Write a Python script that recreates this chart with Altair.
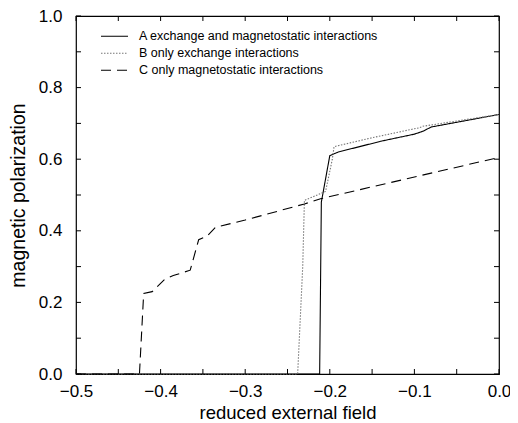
import altair as alt
import pandas as pd

# Curve A: exchange and magnetostatic interactions
a_x = [-0.5, -0.212, -0.21, -0.2, -0.19, -0.14, -0.1, -0.09, -0.08, 0.0]
a_y = [0.0, 0.0, 0.48, 0.61, 0.62, 0.65, 0.67, 0.678, 0.69, 0.725]
# Curve B: only exchange interactions
b_x = [-0.5, -0.238, -0.235, -0.232, -0.23, -0.205, -0.197, -0.195, -0.15, -0.1, -0.095, -0.09, 0.0]
b_y = [0.0, 0.0, 0.15, 0.3, 0.485, 0.51, 0.6, 0.635, 0.66, 0.685, 0.687, 0.692, 0.725]
# Curve C: only magnetostatic interactions
c_x = [-0.5, -0.425, -0.42, -0.41, -0.395, -0.385, -0.365, -0.355, -0.345, -0.335, -0.3, -0.23, -0.21, 0.0]
c_y = [0.0, 0.0, 0.225, 0.23, 0.265, 0.275, 0.29, 0.375, 0.385, 0.41, 0.43, 0.475, 0.49, 0.605]

names = ["A exchange and magnetostatic interactions",
         "B only exchange interactions",
         "C only magnetostatic interactions"]

x_ticks = [round(-0.5 + 0.05 * i, 2) for i in range(11)]
y_ticks = [round(0.1 * i, 1) for i in range(11)]

rows = []
for name, xs, ys in zip(names, [a_x, b_x, c_x], [a_y, b_y, c_y]):
    for i, (x, y) in enumerate(zip(xs, ys)):
        rows.append({"field": x, "pol": y, "series": name, "order": i})
df = pd.DataFrame(rows)

W, H = 423, 358
xscale = alt.Scale(domain=[-0.5, 0.0], nice=False)
yscale = alt.Scale(domain=[0.0, 1.0], nice=False)
font = "Liberation Sans"

legend = alt.Legend(title=None, orient="none", legendX=24, legendY=12,
                    symbolType="stroke", symbolSize=729, symbolStrokeWidth=1.1,
                    labelFontSize=12.5, labelFont=font, labelColor="black",
                    rowPadding=0, clipHeight=16.5, labelOffset=10, labelLimit=400)

lines = alt.Chart(df).mark_line(strokeWidth=1.1).encode(
    x=alt.X("field:Q", scale=xscale,
            axis=alt.Axis(values=[-0.5, -0.4, -0.3, -0.2, -0.1, 0.0], format=".1f",
                          title="reduced external field", tickSize=0, domain=False,
                          grid=False, labelPadding=9, titlePadding=4, labelFlush=False,
                          labelFontSize=17, titleFontSize=18.5)),
    y=alt.Y("pol:Q", scale=yscale,
            axis=alt.Axis(values=[0.0, 0.2, 0.4, 0.6, 0.8, 1.0], format=".1f",
                          title="magnetic polarization", tickSize=0, domain=False,
                          grid=False, labelPadding=14, titlePadding=10, labelFlush=False,
                          labelFontSize=17, titleFontSize=19.5)),
    order="order:Q",
    color=alt.Color("series:N",
                    scale=alt.Scale(domain=names, range=["#000000", "#777777", "#000000"]),
                    legend=legend),
    strokeDash=alt.StrokeDash("series:N",
                              scale=alt.Scale(domain=names, range=[[1, 0], [1.5, 1.5], [10, 6]]),
                              legend=legend),
)

xt = pd.DataFrame({"v": x_ticks})
yt = pd.DataFrame({"v": y_ticks})
tk = 5
bottom_ticks = alt.Chart(xt).mark_rule(color="black", strokeWidth=1).encode(
    x=alt.X("v:Q", scale=xscale), y=alt.value(H), y2=alt.value(H - tk))
top_ticks = alt.Chart(xt).mark_rule(color="black", strokeWidth=1).encode(
    x=alt.X("v:Q", scale=xscale), y=alt.value(0), y2=alt.value(tk))
left_ticks = alt.Chart(yt).mark_rule(color="black", strokeWidth=1).encode(
    y=alt.Y("v:Q", scale=yscale), x=alt.value(0), x2=alt.value(tk))
right_ticks = alt.Chart(yt).mark_rule(color="black", strokeWidth=1).encode(
    y=alt.Y("v:Q", scale=yscale), x=alt.value(W), x2=alt.value(W - tk))

chart = alt.layer(lines, bottom_ticks, top_ticks, left_ticks, right_ticks).properties(
    width=W, height=H,
    autosize=alt.AutoSizeParams(type="none"),
    padding={"left": 68, "top": 8, "right": 11, "bottom": 50},
).configure_view(stroke="black", strokeWidth=1.2).configure_axis(
    labelFont=font, titleFont=font,
    labelColor="black", titleColor="black", titleFontWeight="normal"
)

chart.save("out.html", embed_options={"renderer": "svg", "actions": False})
